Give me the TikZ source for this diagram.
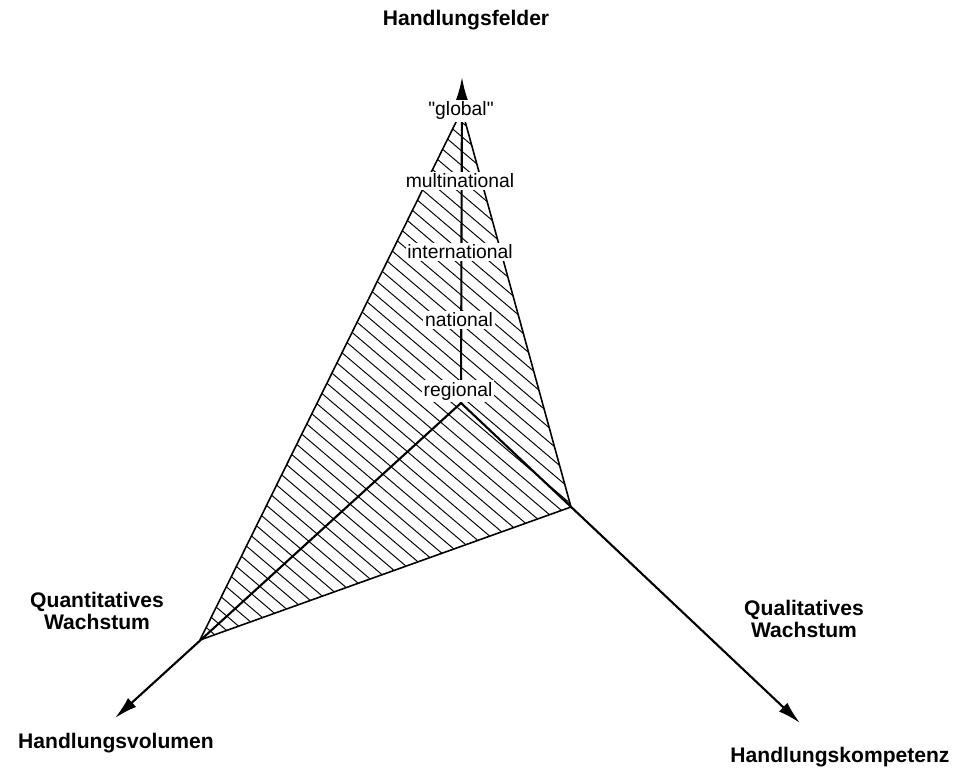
\documentclass[tikz,border=0pt]{standalone}
\usepackage{fontspec}
\setmainfont{Liberation Sans}[Ligatures=TeXOff]
\usetikzlibrary{arrows.meta}
\begin{document}
\begin{tikzpicture}[x=0.02cm,y=-0.02cm,
        achse/.style={line width=1.2pt,-{Latex[length=0.46cm,width=0.24cm]}},
        stufe/.style={fill=white,inner sep=1pt,font=\fontsize{11}{12}\selectfont},
        titel/.style={font=\fontsize{12}{13}\selectfont\bfseries,align=center}]
    \useasboundingbox (0,0) rectangle (964,771);
    \coordinate (O) at (461,403);
    \coordinate (S) at (462,110);
    \coordinate (L) at (200,640);
    \coordinate (R) at (571,507);
    \coordinate (oben) at (462,77);
    \coordinate (links) at (115,718);
    \coordinate (rechts) at (800,723);
    % schraffierte Flaeche
    \begin{scope}
        \clip (S) -- (L) -- (R) -- cycle;
        \foreach \c in {-600,-583,...,440}
            \draw[line width=0.55pt] (\c,0) -- ++(1000,850);
    \end{scope}
    \draw[line width=0.9pt,line join=round] (S) -- (L) -- (R) -- cycle;
    \draw[achse] (O) -- (oben);
    \draw[achse] (O) -- (links);
    \draw[achse] (O) -- (rechts);
    \node[stufe] (global) at (461,111) {"global"};
    \node[stufe] (multi) at (460,181) {multinational};
    \node[stufe] (inter) at (460,252) {international};
    \node[stufe] (national) at (459,320) {national};
    \node[stufe] (regional) at (458,391) {regional};
    \node[titel] (felder) at (466,20) {Handlungsfelder};
    \node[titel] (quant) at (97,611) {Quantitatives\\Wachstum};
    \node[titel] (qual) at (804,619) {Qualitatives\\Wachstum};
    \node[titel] (volumen) at (116,743) {Handlungsvolumen};
    \node[titel] (kompetenz) at (840,757) {Handlungskompetenz};
\end{tikzpicture}
\end{document}
